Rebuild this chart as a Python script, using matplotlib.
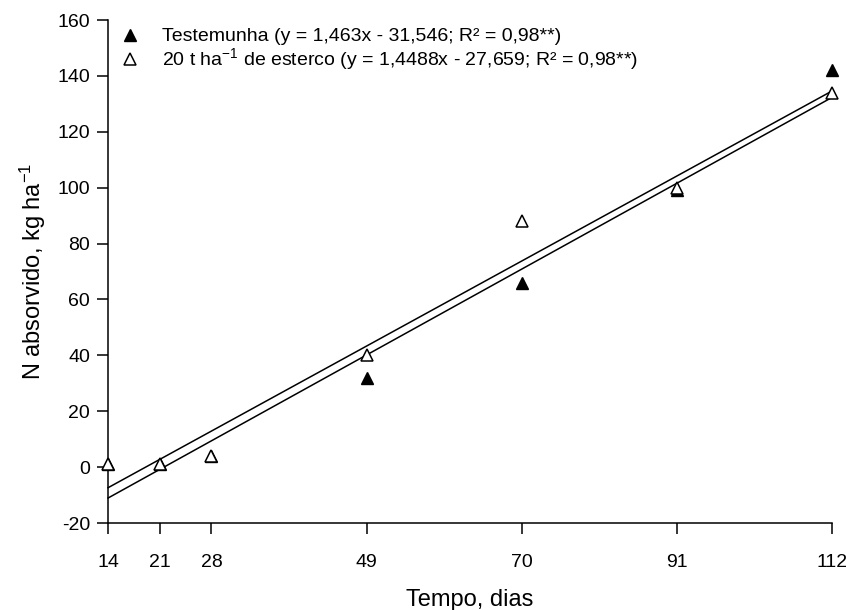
import matplotlib
matplotlib.use("Agg")
import matplotlib.pyplot as plt
import numpy as np

plt.rcParams["font.family"] = ["Liberation Sans", "DejaVu Sans"]
plt.rcParams["axes.unicode_minus"] = False
plt.rcParams["mathtext.fontset"] = "custom"
plt.rcParams["mathtext.rm"] = "Liberation Sans"
plt.rcParams["mathtext.it"] = "Liberation Sans"

# Sampling days and N uptake (kg/ha)
DAYS = [14, 21, 28, 49, 70, 91, 112]
TESTEMUNHA = [1, 1, 4, 32, 66, 99, 142]
ESTERCO = [1, 1, 4, 40, 88, 100, 134]

# Regression coefficients given in the legend (slope, intercept)
FIT_TESTEMUNHA = (1.463, -31.546)
FIT_ESTERCO = (1.4488, -27.659)

LABEL_TESTEMUNHA = "Testemunha (y = 1,463x - 31,546; R² = 0,98**)"
LABEL_ESTERCO = (r"20 t ha$^{\mathrm{-1}}$ de esterco (y = 1,4488x - 27,659; "
                 "R² = 0,98**)")

X_TICKS = [14, 21, 28, 49, 70, 91, 112]
Y_TICKS = list(range(-20, 161, 20))


def main():
    fig = plt.figure(figsize=(8.46, 6.10), dpi=100)
    ax = fig.add_axes([0.1277, 0.1426, 0.8558, 0.8246])

    xs = np.array([DAYS[0], DAYS[-1]], dtype=float)
    for slope, icpt in (FIT_TESTEMUNHA, FIT_ESTERCO):
        ax.plot(xs, slope * xs + icpt, color="black", lw=1.1, zorder=1,
                clip_on=False)

    ax.plot(DAYS, TESTEMUNHA, "^", color="black", ms=8.5, ls="none",
            zorder=3, clip_on=False, label=LABEL_TESTEMUNHA)
    ax.plot(DAYS, ESTERCO, "^", mfc="white", mec="black", mew=1.1, ms=8.5,
            ls="none", zorder=4, clip_on=False, label=LABEL_ESTERCO)

    ax.set_xlim(14, 112)
    ax.set_ylim(-20, 160)
    ax.set_xticks(X_TICKS)
    ax.set_yticks(Y_TICKS)
    for side in ("top", "right"):
        ax.spines[side].set_visible(False)
    for side in ("left", "bottom"):
        ax.spines[side].set_linewidth(1.1)
    ax.tick_params(direction="out", length=8, width=1.1, labelsize=14,
                   pad=5)
    ax.tick_params(axis="x", pad=14)

    ax.set_xlabel("Tempo, dias", fontsize=17, labelpad=13)
    ax.set_ylabel(r"N absorvido, kg ha$^{\mathrm{-1}}$", fontsize=17,
                  labelpad=7)

    ax.legend(loc="upper left", frameon=False, fontsize=14,
              handletextpad=0.9, borderaxespad=0.0, labelspacing=0.05,
              handlelength=1.5, bbox_to_anchor=(0.0, 1.0))

    fig.savefig("out.png", dpi=100)
    plt.close(fig)


if __name__ == "__main__":
    main()
